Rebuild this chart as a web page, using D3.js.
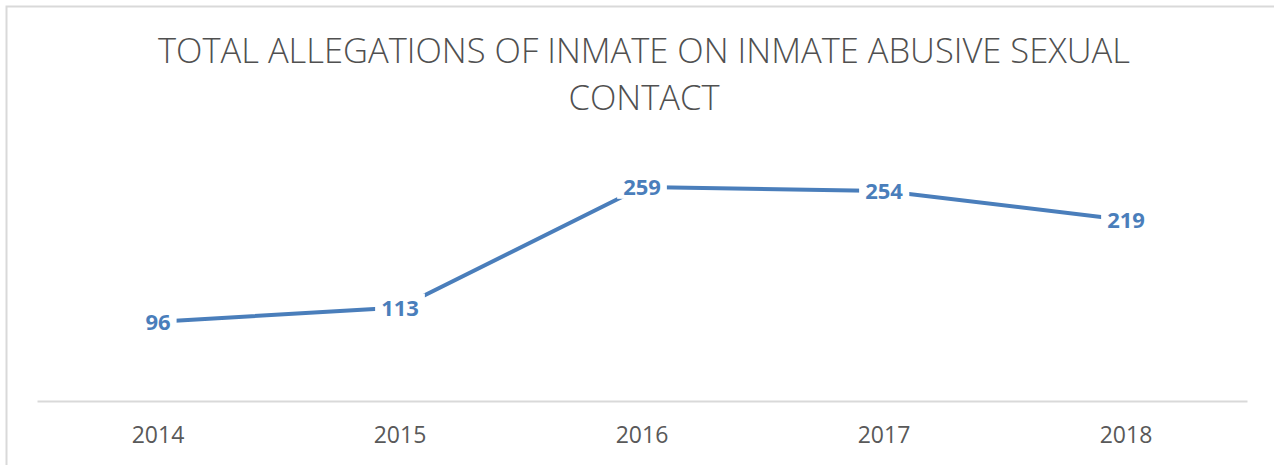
<!DOCTYPE html>
<html>
<head>
	<meta charset="utf-8">
	<title>Total allegations of inmate on inmate abusive sexual contact</title>
	<script src="https://d3js.org/d3.v7.min.js"></script>
	<style type="text/css">
		body {
			margin: 0;
			padding: 0;
			background: #fff;
		}
		svg text {
			font-family: "Open Sans", "Liberation Sans", sans-serif;
		}
	</style>
</head>
<body>

<div id="chart"></div>

<script>

// data
var years = ["2014", "2015", "2016", "2017", "2018"];
var allegations = [96, 113, 259, 254, 219];
var titleLines = ["TOTAL ALLEGATIONS OF INMATE ON INMATE ABUSIVE SEXUAL", "CONTACT"];

var width = 1274,
	height = 465,
	blue = "#4a7ebb",
	grey = "#595959";

var svg = d3.select("#chart").append("svg")
	.attr("width", width)
	.attr("height", height);

// chart frame, runs off the right and bottom edge
svg.append("rect")
	.attr("x", 6.5)
	.attr("y", 6.5)
	.attr("width", width + 20)
	.attr("height", height + 20)
	.attr("fill", "none")
	.attr("stroke", "#d9d9d9")
	.attr("stroke-width", 2);

var title = svg.append("text")
	.attr("text-anchor", "middle")
	.attr("fill", "#505050")
	.style("font-size", "34.5px")
	.style("font-weight", 300);

title.selectAll("tspan")
	.data(titleLines)
	.enter().append("tspan")
	.attr("x", 644)
	.attr("y", function(d, i) { return 63 + i * 47; })
	.text(function(d) { return d; });

var x = d3.scaleBand()
	.domain(years)
	.range([37, 1247]);

var y = d3.scaleLinear()
	.domain([0, 300])
	.range([401, 153]);

var xAxis = svg.append("g")
	.attr("transform", "translate(0," + y(0) + ")")
	.call(d3.axisBottom(x).tickSize(0).tickPadding(26));

xAxis.select(".domain")
	.attr("stroke", "#d9d9d9")
	.attr("stroke-width", 2);

xAxis.selectAll("text")
	.attr("fill", grey)
	.style("font-size", "23px")
	.style("font-family", "\"Open Sans\", sans-serif");

var points = years.map(function(d, i) { return { year: d, value: allegations[i] }; });

var line = d3.line()
	.x(function(d) { return x(d.year) + x.bandwidth() / 2; })
	.y(function(d) { return y(d.value); });

svg.append("path")
	.datum(points)
	.attr("d", line)
	.attr("fill", "none")
	.attr("stroke", blue)
	.attr("stroke-width", 4)
	.attr("stroke-linecap", "round");

var labels = svg.selectAll(".label")
	.data(points)
	.enter().append("g")
	.attr("class", "label")
	.attr("transform", function(d) {
		return "translate(" + (x(d.year) + x.bandwidth() / 2) + "," + y(d.value) + ")";
	});

labels.append("rect")
	.attr("fill", "#fff");

labels.append("text")
	.attr("text-anchor", "middle")
	.attr("dy", "0.36em")
	.attr("fill", blue)
	.style("font-size", "22px")
	.style("font-weight", "bold")
	.text(function(d) { return d.value; });

labels.each(function() {
	var g = d3.select(this),
		b = g.select("text").node().getBBox();
	g.select("rect")
		.attr("x", b.x - 6)
		.attr("y", b.y + 2)
		.attr("width", b.width + 12)
		.attr("height", b.height - 4);
});

</script>
</body>
</html>
